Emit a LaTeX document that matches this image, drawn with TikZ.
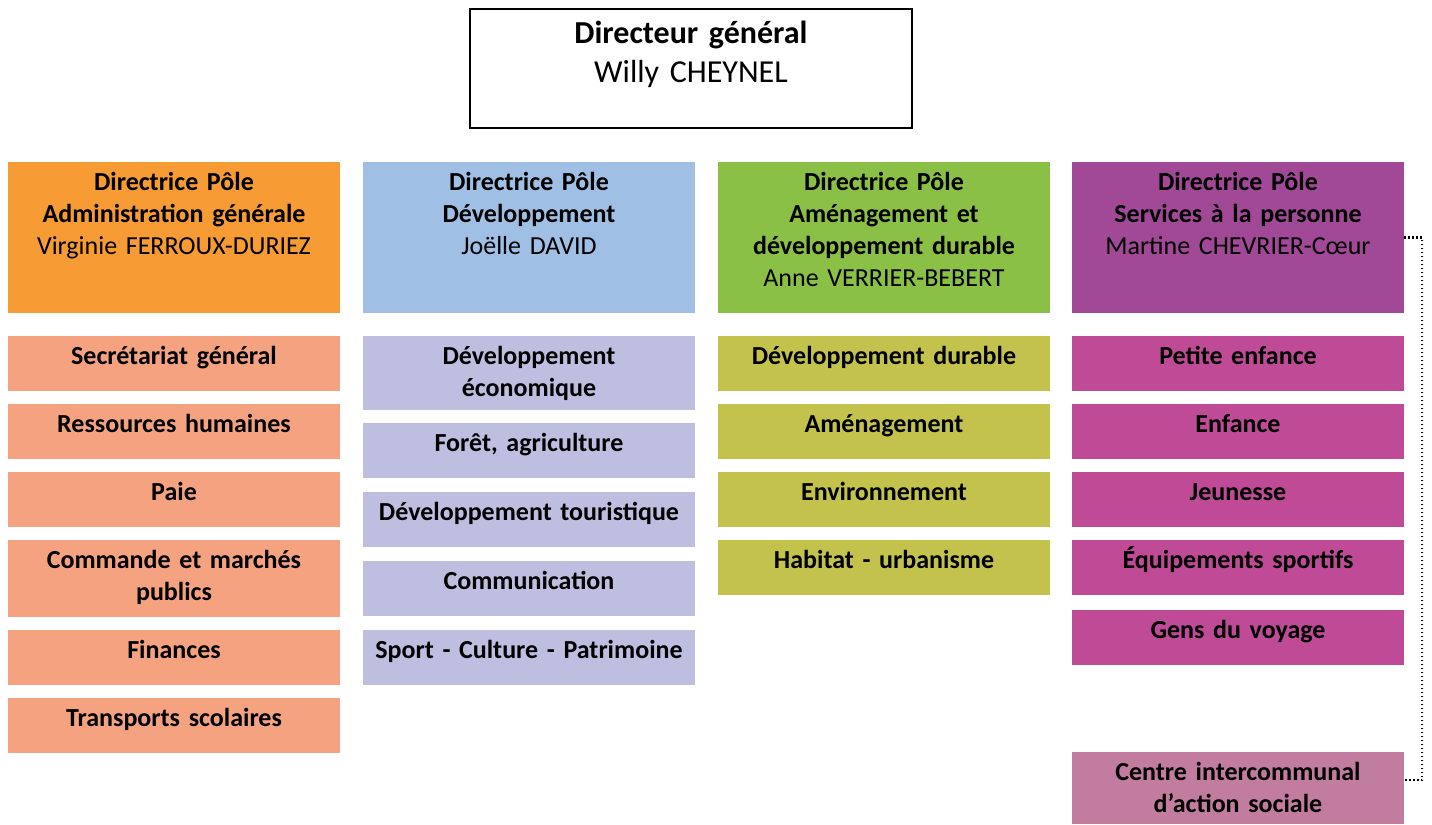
\documentclass[tikz,border=0pt]{standalone}
\usepackage{fontspec}
\setmainfont{Carlito}
\usetikzlibrary{positioning}

\definecolor{adminhead}{RGB}{247,155,52}
\definecolor{adminitem}{RGB}{244,162,128}
\definecolor{devhead}{RGB}{160,191,229}
\definecolor{devitem}{RGB}{190,190,225}
\definecolor{amenhead}{RGB}{138,192,70}
\definecolor{amenitem}{RGB}{194,194,76}
\definecolor{servhead}{RGB}{161,72,150}
\definecolor{servitem}{RGB}{191,74,149}
\definecolor{ciasitem}{RGB}{193,124,160}

\tikzset{
    box/.style = {
        rectangle,
        inner xsep=3pt,
        inner ysep=0pt,
        outer sep=0pt,
        text width=160pt,
        align=center,
        text height=14pt,
        font=\fontsize{13}{16}\selectfont\bfseries,
        },
    boss/.style = {
        box,
        draw=black,
        line width=1pt,
        text width=215pt,
        text height=17pt,
        text depth=42.5pt,
        font=\fontsize{16}{19.5}\selectfont\bfseries,
        },
    pole/.style = {
        box,
        text depth=61.5pt,
        },
    service/.style = {
        box,
        text depth=13.5pt,
        },
    twolines/.style = {
        text depth=23pt,
        },
    link/.style = {
        line width=1.1pt,
        dash pattern=on 0.9pt off 1.1pt,
        },
    node distance = 6.5pt,
}

\begin{document}
\begin{tikzpicture}
            \useasboundingbox (0,0) rectangle (716pt,-412.5pt);

            \node[boss, anchor=north] (dg) at (345.5pt,-4.5pt) {Directeur général\\\textmd{Willy CHEYNEL}};

            % poles
            \node[pole, fill=adminhead, anchor=north west] (admin) at (4pt,-81pt) {Directrice Pôle\\Administration générale\\\textmd{Virginie FERROUX-DURIEZ}};
            \node[pole, fill=devhead, right=11.5pt of admin] (dev) {Directrice Pôle\\Développement\\\textmd{Joëlle DAVID}};
            \node[pole, fill=amenhead, right=11.5pt of dev] (amen) {Directrice Pôle\\Aménagement et\\développement durable\\\textmd{Anne VERRIER-BEBERT}};
            \node[pole, fill=servhead, right=11pt of amen] (serv) {Directrice Pôle\\Services à la personne\\\textmd{Martine CHEVRIER-Cœur}};

            % administration generale
            \node[service, fill=adminitem, below=11.5pt of admin] (secr) {Secrétariat général};
            \node[service, fill=adminitem, below=of secr] (rh) {Ressources humaines};
            \node[service, fill=adminitem, below=of rh] (paie) {Paie};
            \node[service, fill=adminitem, below=of paie, text depth=24.5pt] (marches) {Commande et marchés\\publics};
            \node[service, fill=adminitem, below=of marches] (fin) {Finances};
            \node[service, fill=adminitem, below=of fin] (transp) {Transports scolaires};

            % developpement
            \node[service, fill=devitem, below=11.5pt of dev, twolines] (eco) {Développement\\économique};
            \node[service, fill=devitem, below=of eco] (foret) {Forêt, agriculture};
            \node[service, fill=devitem, below=7pt of foret] (tour) {Développement touristique};
            \node[service, fill=devitem, below=7pt of tour] (comm) {Communication};
            \node[service, fill=devitem, below=7pt of comm] (sport) {Sport - Culture - Patrimoine};

            % amenagement
            \node[service, fill=amenitem, below=11.5pt of amen] (durable) {Développement durable};
            \node[service, fill=amenitem, below=of durable] (amenag) {Aménagement};
            \node[service, fill=amenitem, below=of amenag] (env) {Environnement};
            \node[service, fill=amenitem, below=of env] (habitat) {Habitat - urbanisme};

            % services a la personne
            \node[service, fill=servitem, below=11.5pt of serv] (petite) {Petite enfance};
            \node[service, fill=servitem, below=of petite] (enfance) {Enfance};
            \node[service, fill=servitem, below=of enfance] (jeun) {Jeunesse};
            \node[service, fill=servitem, below=of jeun] (equip) {Équipements sportifs};
            \node[service, fill=servitem, below=7.5pt of equip] (gens) {Gens du voyage};
            \node[service, fill=ciasitem, below=43.5pt of gens, text depth=22pt] (cias) {Centre intercommunal\\d’action sociale};

            \draw[link] (serv.east) -- ++(9pt,0) |- ([yshift=4pt]cias.east);
        \end{tikzpicture}
\end{document}
